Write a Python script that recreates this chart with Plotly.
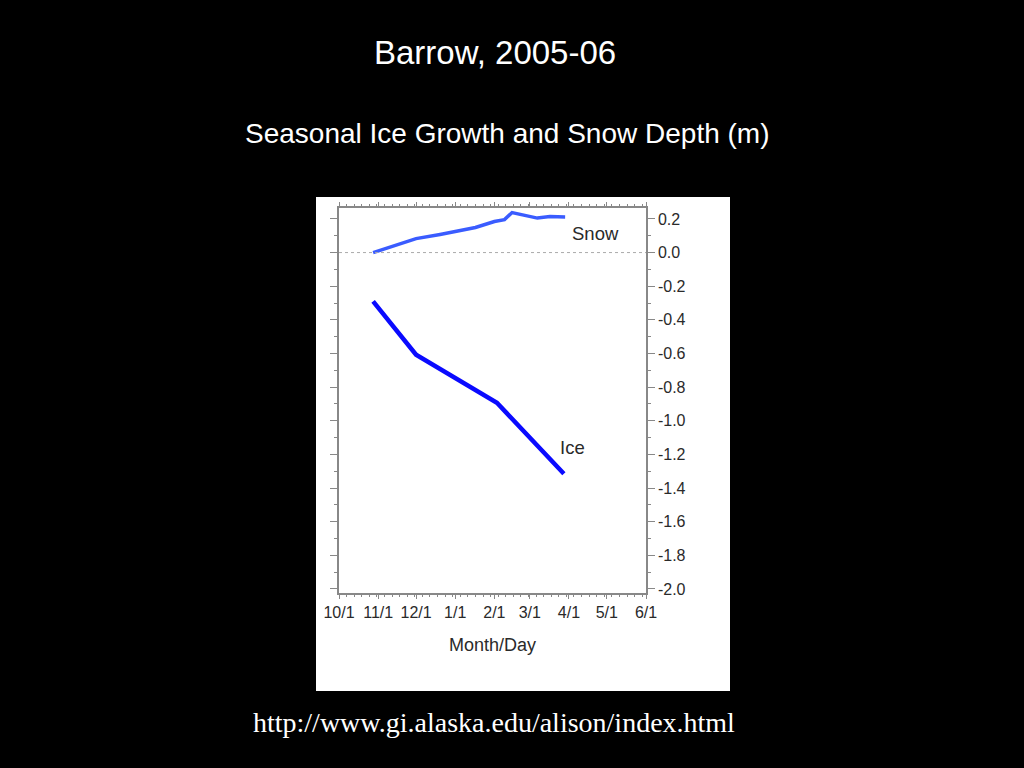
import plotly.graph_objects as go

snow_dates = ["2005-10-28", "2005-11-15", "2005-12-01", "2005-12-20", "2006-01-17", "2006-02-01",
              "2006-02-09", "2006-02-15", "2006-02-25", "2006-03-07", "2006-03-17", "2006-03-29"]
snow_depth = [0.0, 0.045, 0.083, 0.108, 0.149, 0.185, 0.196, 0.238, 0.222, 0.205, 0.214, 0.212]

ice_dates = ["2005-10-28", "2005-12-01", "2006-02-03", "2006-03-28"]
ice_growth = [-0.29, -0.607, -0.893, -1.315]

x_tickvals = ["2005-10-01", "2005-11-01", "2005-12-01", "2006-01-01", "2006-02-01",
              "2006-03-01", "2006-04-01", "2006-05-01", "2006-06-01"]
x_ticktext = ["10/1", "11/1", "12/1", "1/1", "2/1", "3/1", "4/1", "5/1", "6/1"]
y_tickvals = [0.2, 0.0, -0.2, -0.4, -0.6, -0.8, -1.0, -1.2, -1.4, -1.6, -1.8, -2.0]
y_ticktext = ["0.2", "0.0", "-0.2", "-0.4", "-0.6", "-0.8", "-1.0", "-1.2", "-1.4", "-1.6", "-1.8", "-2.0"]

fig = go.Figure()
fig.add_trace(go.Scatter(x=snow_dates, y=snow_depth, mode="lines",
                         line=dict(color="#3a5cff", width=3.5), showlegend=False))
fig.add_trace(go.Scatter(x=ice_dates, y=ice_growth, mode="lines",
                         line=dict(color="#0a0aff", width=4.5), showlegend=False))

W, H = 1024, 768
L, R, T, B = 339, 646, 208, 593
pw, ph = R - L, B - T
def px(x): return (x - L) / pw
def py(y): return (B - y) / ph

fig.add_shape(type="rect", xref="paper", yref="paper", x0=px(316), x1=px(730), y0=py(691), y1=py(197),
              fillcolor="white", line=dict(width=0), layer="below")
fig.add_shape(type="line", xref="paper", yref="y", x0=0, x1=1, y0=0, y1=0,
              line=dict(color="#aaaaaa", width=1, dash="dot"))

axis_font = dict(family="Liberation Sans, Arial", size=16, color="#2a2a2a")
fig.update_xaxes(type="date", range=["2005-10-01", "2006-06-01"], tickvals=x_tickvals, ticktext=x_ticktext,
                 ticks="outside", ticklen=4, tickcolor="#888888", showline=True, linecolor="#888888",
                 linewidth=1.5, mirror="ticks", showgrid=False, zeroline=False, tickfont=axis_font,
                 minor=dict(ticks="outside", ticklen=2, tickcolor="#888888", dtick=86400000 * 6, tick0="2005-10-01"),
                 title=dict(text="Month/Day", font=dict(family="Liberation Sans, Arial", size=18, color="#2a2a2a"),
                            standoff=18))
fig.update_yaxes(range=[-2.024, 0.265], side="right", tickvals=y_tickvals, ticktext=y_ticktext,
                 ticks="outside", ticklen=7, tickcolor="#888888", showline=True, linecolor="#888888",
                 linewidth=1.5, mirror="ticks", showgrid=False, zeroline=False, tickfont=axis_font,
                 minor=dict(ticks="outside", ticklen=3, tickcolor="#888888", dtick=0.1, tick0=0))

fig.add_annotation(x="2006-04-22", y=0.112, text="Snow", showarrow=False, xanchor="center", yanchor="middle",
                   font=dict(family="Liberation Sans, Arial", size=18.5, color="#2a2a2a"))
fig.add_annotation(x="2006-04-04", y=-1.16, text="Ice", showarrow=False, xanchor="center", yanchor="middle",
                   font=dict(family="Liberation Sans, Arial", size=18.5, color="#2a2a2a"))

fig.add_annotation(xref="paper", yref="paper", x=px(494.5), y=py(52), text="Barrow, 2005-06", showarrow=False,
                   xanchor="center", yanchor="middle",
                   font=dict(family="Liberation Sans, Arial", size=33, color="white"))
fig.add_annotation(xref="paper", yref="paper", x=px(506.5), y=py(133), text="Seasonal Ice Growth and Snow Depth (m)",
                   showarrow=False, xanchor="center", yanchor="middle",
                   font=dict(family="Liberation Sans, Arial", size=28, color="white"))
fig.add_annotation(xref="paper", yref="paper", x=px(493.5), y=py(722), text="http://www.gi.alaska.edu/alison/index.html",
                   showarrow=False, xanchor="center", yanchor="middle",
                   font=dict(family="Liberation Serif, Times New Roman", size=28, color="white"))

fig.update_layout(width=W, height=H, margin=dict(l=L, r=W - R, t=T, b=H - B, autoexpand=False),
                  paper_bgcolor="black", plot_bgcolor="white")

fig.write_html("out.html", config={"displayModeBar": False},
               post_script="document.body.style.margin='0px';document.body.style.background='black';")
